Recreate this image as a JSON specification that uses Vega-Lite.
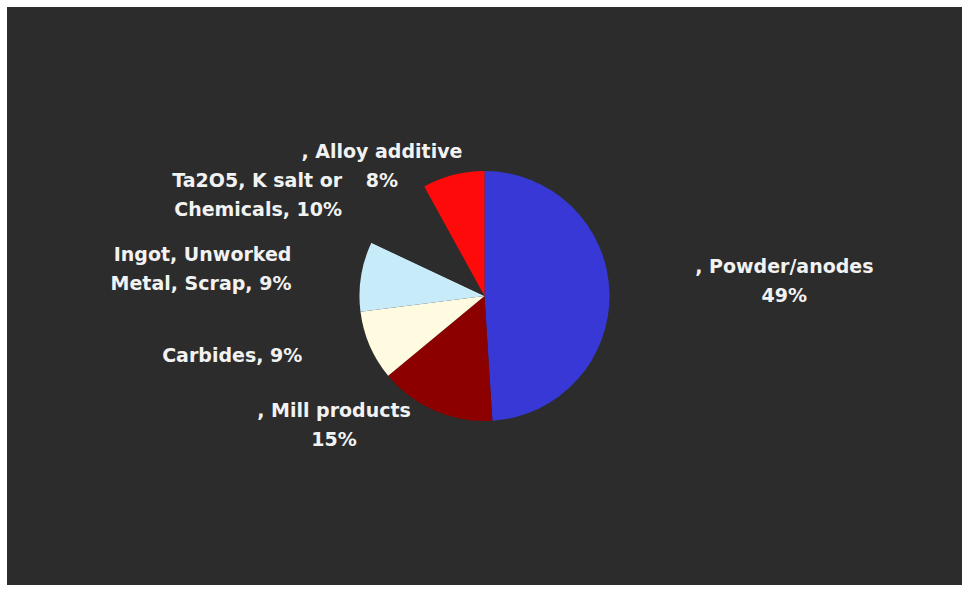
{
  "$schema": "https://vega.github.io/schema/vega-lite/v6.json",
  "width": 955,
  "height": 578,
  "autosize": {"type": "none"},
  "padding": {"left": 7, "top": 7, "right": 0, "bottom": 4},
  "background": "#ffffff",
  "config": {"view": {"stroke": null}},
  "data": {
    "values": [
      {"category": "Powder/anodes", "value": 49, "label": ", Powder/anodes\n49%"},
      {"category": "Mill products", "value": 15, "label": ", Mill products\n15%"},
      {"category": "Carbides", "value": 9, "label": "Carbides, 9%"},
      {"category": "Ingot, Unworked Metal, Scrap", "value": 9, "label": "Ingot, Unworked\nMetal, Scrap, 9%"},
      {"category": "Ta2O5, K salt or Chemicals", "value": 10, "label": "Ta2O5, K salt or\nChemicals, 10%"},
      {"category": "Alloy additive", "value": 8, "label": ", Alloy additive\n8%"}
    ]
  },
  "layer": [
    {
      "mark": {"type": "rect", "fill": "#2c2c2c", "stroke": null},
      "encoding": {}
    },
    {
      "transform": [{"window": [{"op": "row_number", "as": "idx"}]}],
      "encoding": {
        "theta": {"field": "value", "type": "quantitative", "stack": true},
        "order": {"field": "idx", "type": "quantitative"},
        "detail": {"field": "category", "type": "nominal"}
      },
      "layer": [
        {
          "mark": {"type": "arc", "outerRadius": 125, "stroke": null},
          "encoding": {
            "color": {
              "field": "category",
              "type": "nominal",
              "scale": {
                "domain": ["Powder/anodes", "Mill products", "Carbides", "Ingot, Unworked Metal, Scrap", "Ta2O5, K salt or Chemicals", "Alloy additive"],
                "range": ["#3838d6", "#8c0000", "#fffbe0", "#c8ebfa", "#2c2c2c", "#ff0a0a"]
              },
              "legend": null
            }
          }
        },
        {
          "mark": {"type": "text", "radius": 297, "align": "center", "baseline": "middle", "dx": 3, "dy": -20, "lineBreak": "\n", "font": "DejaVu Sans", "fontWeight": "bold", "fontSize": 19, "lineHeight": 29, "fill": "#f2f2f2"},
          "encoding": {
            "text": {"condition": {"test": "datum.category === 'Powder/anodes'", "field": "label", "type": "nominal"}, "value": ""}
          }
        },
        {
          "mark": {"type": "text", "radius": 146, "align": "center", "baseline": "middle", "dx": -92.5, "dy": -19, "lineBreak": "\n", "font": "DejaVu Sans", "fontWeight": "bold", "fontSize": 19, "lineHeight": 29, "fill": "#f2f2f2"},
          "encoding": {
            "text": {"condition": {"test": "datum.category === 'Mill products'", "field": "label", "type": "nominal"}, "value": ""}
          }
        },
        {
          "mark": {"type": "text", "radius": 198, "align": "right", "baseline": "middle", "dx": -0.5, "dy": -19, "lineBreak": "\n", "font": "DejaVu Sans", "fontWeight": "bold", "fontSize": 19, "lineHeight": 29, "fill": "#f2f2f2"},
          "encoding": {
            "text": {"condition": {"test": "datum.category === 'Carbides'", "field": "label", "type": "nominal"}, "value": ""}
          }
        },
        {
          "mark": {"type": "text", "radius": 197, "align": "right", "baseline": "middle", "dx": 1.5, "dy": -10, "lineBreak": "\n", "font": "DejaVu Sans", "fontWeight": "bold", "fontSize": 19, "lineHeight": 29, "fill": "#f2f2f2"},
          "encoding": {
            "text": {"condition": {"test": "datum.category === 'Ingot, Unworked Metal, Scrap'", "field": "label", "type": "nominal"}, "value": ""}
          }
        },
        {
          "mark": {"type": "text", "radius": 170, "align": "right", "baseline": "middle", "dx": -18.5, "dy": 1, "lineBreak": "\n", "font": "DejaVu Sans", "fontWeight": "bold", "fontSize": 19, "lineHeight": 29, "fill": "#f2f2f2"},
          "encoding": {
            "text": {"condition": {"test": "datum.category === 'Ta2O5, K salt or Chemicals'", "field": "label", "type": "nominal"}, "value": ""}
          }
        },
        {
          "mark": {"type": "text", "radius": 133, "align": "center", "baseline": "middle", "dx": -69.5, "dy": -15, "lineBreak": "\n", "font": "DejaVu Sans", "fontWeight": "bold", "fontSize": 19, "lineHeight": 29, "fill": "#f2f2f2"},
          "encoding": {
            "text": {"condition": {"test": "datum.category === 'Alloy additive'", "field": "label", "type": "nominal"}, "value": ""}
          }
        }
      ]
    }
  ]
}
